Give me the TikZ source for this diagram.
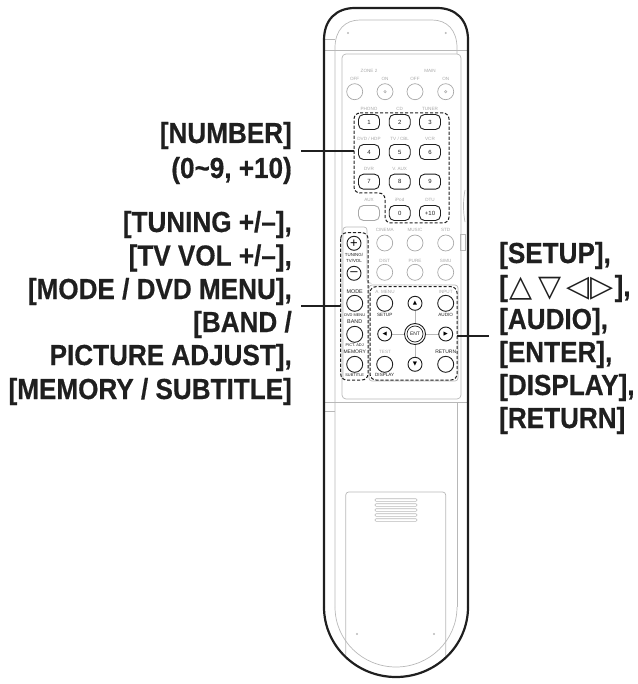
\documentclass[tikz,border=0pt]{standalone}
\usepackage{fontspec}
\setmainfont{Liberation Sans}
\newfontfamily\labelfont[FakeStretch=0.9,FakeBold=0.5]{Liberation Sans Bold}
\newfontfamily\symfont{DejaVu Sans}
\definecolor{ln}{gray}{0.72}
\definecolor{ink}{gray}{0.12}
\definecolor{faint}{gray}{0.66}
\tikzset{
  body/.style={draw=ink,line width=2.2pt},
  thin gray/.style={draw=ln,line width=0.7pt},
  faintcirc/.style={circle,draw=faint,line width=0.7pt,minimum size=16pt,inner sep=0pt},
  blackcirc/.style={circle,draw=ink,line width=0.9pt,minimum size=16pt,inner sep=0pt},
  arrowcirc/.style={circle,draw=ink,line width=0.9pt,minimum size=14pt,inner sep=0pt},
  numkey/.style={draw=ink,line width=0.9pt,rounded corners=5pt,minimum width=21pt,minimum height=15pt,inner sep=0pt,font=\fontsize{6}{6}\selectfont,text=ink},
  graykey/.style={numkey,draw=faint},
  tiny/.style={font=\fontsize{4.6}{5}\selectfont,text=faint,inner sep=0pt},
  tinyb/.style={font=\fontsize{4.6}{5}\selectfont,text=ink,inner sep=0pt},
  dashbox/.style={draw=ink,line width=1pt,dash pattern=on 3.2pt off 1.8pt,rounded corners=6pt},
  leader/.style={draw=ink,line width=2.2pt},
  bigleft/.style={anchor=base east,inner sep=0pt,font=\labelfont\fontsize{29}{29}\selectfont,text=ink},
  bigright/.style={anchor=base west,inner sep=0pt,font=\labelfont\fontsize{29}{29}\selectfont,text=ink},
  screw/.style={circle,fill=ln,minimum size=2.4pt,inner sep=0pt},
  vent/.style={draw=ln,line width=0.6pt,rounded corners=1pt,minimum width=42pt,minimum height=2.6pt,inner sep=0pt},
}
\begin{document}
\begin{tikzpicture}[x=1pt,y=-1pt]
\useasboundingbox (0,0) rectangle (637,684);
% inner outline
\draw[thin gray] (335,607) -- (335,48) .. controls (335,30) and (345,20) .. (360,20) -- (432,20) .. controls (447,20) and (457,30) .. (457,48) -- (457,54);
\draw[thin gray] (457,402) -- (457,607);
\draw[thin gray] (335,607) arc[start angle=180,end angle=0,x radius=61,y radius=60];
\draw[thin gray] (324,39) -- (335,39);
\draw[thin gray] (324,50) -- (468,50);
\draw[thin gray] (324,411) -- (335,411);
\draw[thin gray] (324,402) -- (468,402);
% panel
\draw[thin gray,rounded corners=4pt] (342,54) rectangle (461,399);
\draw[thin gray,rounded corners=3pt] (343,380) -- (343,227) -- (367,227) -- (367,283) -- (369,283);
\draw[thin gray,rounded corners=3pt] (369,285) rectangle (458,381);
\draw[thin gray] (465,190) .. controls (463,200) and (463,212) .. (465,222);
\draw[thin gray] (460,234) rectangle (465,250);
% battery
\draw[thin gray,rounded corners=3pt] (345.7,657) -- (345.7,492) -- (445.7,492) -- (445.7,657);
\foreach \yy in {500,505,510,515,520} \node[vent] (v\yy) at (396,\yy) {};
\node[screw] (s1) at (348,33) {};
\node[screw] (s2) at (445.7,33) {};
\node[screw] (s3) at (357,634) {};
\node[screw] (s4) at (434,634) {};
% body
\draw[body] (324,607) -- (324,40) .. controls (324,20) and (336,8) .. (355,8) -- (437,8) .. controls (456,8) and (468,20) .. (468,40) -- (468,607);
\draw[body] (324,607) arc[start angle=180,end angle=0,x radius=72,y radius=70];
% top buttons
\node[tiny] (z2) at (369,71) {ZONE 2};
\node[tiny] (mn) at (430,71) {MAIN};
\node[tiny] (o1) at (354.7,79) {OFF};
\node[tiny] (o2) at (385,79) {ON};
\node[tiny] (o3) at (415,79) {OFF};
\node[tiny] (o4) at (445.7,79) {ON};
\node[faintcirc] (b1) at (354.7,91.7) {};
\node[faintcirc] (b2) at (385,91.7) {};
\node[faintcirc] (b3) at (415,91.7) {};
\node[faintcirc] (b4) at (445.7,91.7) {};
\node[circle,draw=faint,line width=0.5pt,minimum size=2.4pt,inner sep=0pt] (d2) at (385,91.7) {};
\node[circle,draw=faint,line width=0.5pt,minimum size=2.4pt,inner sep=0pt] (d4) at (445.7,91.7) {};
% number keys
\node[tiny] (l1) at (369,109) {PHONO};
\node[tiny] (l2) at (399.7,109) {CD};
\node[tiny] (l3) at (430,109) {TUNER};
\node[numkey] (k1) at (369,122) {1};
\node[numkey] (k2) at (399.7,122) {2};
\node[numkey] (k3) at (430,122) {3};
\node[tiny] (l4) at (369,139) {DVD / HDP};
\node[tiny] (l5) at (399.7,139) {TV / CBL};
\node[tiny] (l6) at (430,139) {VCR};
\node[numkey] (k4) at (369,152) {4};
\node[numkey] (k5) at (399.7,152) {5};
\node[numkey] (k6) at (430,152) {6};
\node[tiny] (l7) at (369,169) {DVR};
\node[tiny] (l8) at (399.7,169) {V. AUX};
\node[numkey] (k7) at (369,181.7) {7};
\node[numkey] (k8) at (399.7,181.7) {8};
\node[numkey] (k9) at (430,181.7) {9};
\node[tiny] (la) at (369,200) {AUX};
\node[tiny] (l0) at (399.7,200) {iPod};
\node[tiny] (lt) at (430,200) {DTU};
\node[graykey] (ka) at (369,213) {};
\node[numkey] (k0) at (399.7,213) {0};
\node[numkey] (k10) at (430,213) {+10};
% surround row
\node[tiny] (c1) at (384.7,230) {CINEMA};
\node[tiny] (c2) at (415,230) {MUSIC};
\node[tiny] (c3) at (445.7,230) {STD};
\node[faintcirc] (s5) at (384.7,243) {};
\node[faintcirc] (s6) at (415,243) {};
\node[faintcirc] (s7) at (445.7,243) {};
\node[tiny] (c4) at (384.7,261) {DIST};
\node[tiny] (c5) at (415,261) {PURE};
\node[tiny] (c6) at (445.7,261) {SIMU};
\node[faintcirc] (s8) at (384.7,272.3) {};
\node[faintcirc] (s9) at (415,272.3) {};
\node[faintcirc] (s10) at (445.7,272.3) {};
% left column
\node[arrowcirc,font=\fontsize{13}{13}\selectfont] (plus) at (354,243.3) {+};
\node[tinyb,align=center,font=\fontsize{4.4}{5.2}\selectfont] (tv) at (354,258) {TUNING/\\TV/VOL};
\node[arrowcirc,font=\fontsize{13}{13}\selectfont] (minus) at (354,273.3) {–};
\node[tinyb,font=\fontsize{5.4}{6}\selectfont] (mo) at (354.7,292) {MODE};
\node[blackcirc] (mode) at (354.7,303.3) {};
\node[tinyb,font=\fontsize{3.9}{5}\selectfont] (dm) at (354.7,315) {DVD MENU};
\node[tinyb,font=\fontsize{5.4}{6}\selectfont] (ba) at (354.7,322) {BAND};
\node[blackcirc] (band) at (354.7,334.3) {};
\node[tinyb,font=\fontsize{3.9}{5}\selectfont] (pa) at (354.7,345) {PICT. ADJ};
\node[tinyb,font=\fontsize{5}{6}\selectfont] (me) at (354.7,352) {MEMORY};
\node[blackcirc] (mem) at (354.7,364.3) {};
\node[tinyb,font=\fontsize{3.9}{5}\selectfont] (su) at (354.7,375) {SUBTITLE};
% cursor cross
\draw[thin gray] (415,303) -- (415,364);
\draw[thin gray] (384.7,334) -- (445.7,334);
% cursor cluster
\node[tiny] (am) at (385,292) {A. MENU};
\node[tiny] (ip) at (445.7,292) {INPUT};
\node[blackcirc,fill=white] (setup) at (384.7,303.3) {};
\node[arrowcirc,fill=white,font=\fontsize{5.5}{5.5}\selectfont] (up) at (415,303.3) {\symfont ▲};
\node[blackcirc,fill=white] (audio) at (445.7,303.3) {};
\node[tinyb] (st) at (384.7,315) {SETUP};
\node[tinyb] (au) at (445.7,315) {AUDIO};
\node[arrowcirc,fill=white,font=\fontsize{5.5}{5.5}\selectfont] (left) at (384.7,334) {\symfont ◀};
\node[circle,draw=ink,fill=white,line width=0.9pt,minimum size=21pt,inner sep=0pt] (entouter) at (415,334) {};
\node[circle,draw=ink,line width=0.7pt,minimum size=16pt,inner sep=0pt,font=\fontsize{5}{5}\selectfont,text=ink] (ent) at (415,334) {ENT};
\node[arrowcirc,fill=white,font=\fontsize{5.5}{5.5}\selectfont] (right) at (445.7,334) {\symfont ▶};
\node[tiny] (te) at (385,352) {TEST};
\node[tinyb,font=\fontsize{5}{6}\selectfont] (re) at (445.7,352) {RETURN};
\node[blackcirc,fill=white] (disp) at (384.7,364.3) {};
\node[arrowcirc,fill=white,font=\fontsize{5.5}{5.5}\selectfont] (down) at (415,364.3) {\symfont ▼};
\node[blackcirc,fill=white] (ret) at (445.7,364.3) {};
\node[tinyb] (di) at (384.7,375) {DISPLAY};
% dashed groups
\draw[dashbox] (354,113) -- (449,113) -- (449,223) -- (385,223) -- (385,193) -- (354,193) -- cycle;
\draw[dashbox] (340.7,232.7) rectangle (368,380);
\draw[dashbox] (370,286.7) rectangle (457,380);
% leaders
\coordinate (n1) at (301,151);
\coordinate (n2) at (354,151);
\coordinate (t1) at (301,306);
\coordinate (t2) at (341,306);
\coordinate (r1) at (457,335.7);
\coordinate (r2) at (489,335.7);
\draw[leader] (n1) -- (n2);
\draw[leader] (t1) -- (t2);
\draw[leader] (r1) -- (r2);
% left labels
\node[bigleft] (a1) at (292,143) {[NUMBER]};
\node[bigleft] (a2) at (292,178) {(0\textasciitilde9, +10)};
\node[bigleft] (a3) at (292,232) {[TUNING +/–],};
\node[bigleft] (a4) at (292,265.5) {[TV VOL +/–],};
\node[bigleft] (a5) at (292,299) {[MODE / DVD MENU],};
\node[bigleft] (a6) at (292,332) {[BAND /};
\node[bigleft] (a7) at (292,365) {PICTURE ADJUST],};
\node[bigleft] (a8) at (292,399) {[MEMORY / SUBTITLE]};
% right labels
\node[bigright] (r3) at (499,263) {[SETUP],};
\node[bigright] (r4) at (499,296) {[\hspace{1.5pt}{\symfont\fontsize{30}{30}\selectfont △\hspace{6pt}▽\hspace{5pt}◁\hspace{1pt}▷}\hspace{1pt}],};
\node[bigright] (r5) at (499,329) {[AUDIO],};
\node[bigright] (r6) at (499,362) {[ENTER],};
\node[bigright] (r7) at (499,395) {[DISPLAY],};
\node[bigright] (r8) at (499,428) {[RETURN]};
\end{tikzpicture}
\end{document}
